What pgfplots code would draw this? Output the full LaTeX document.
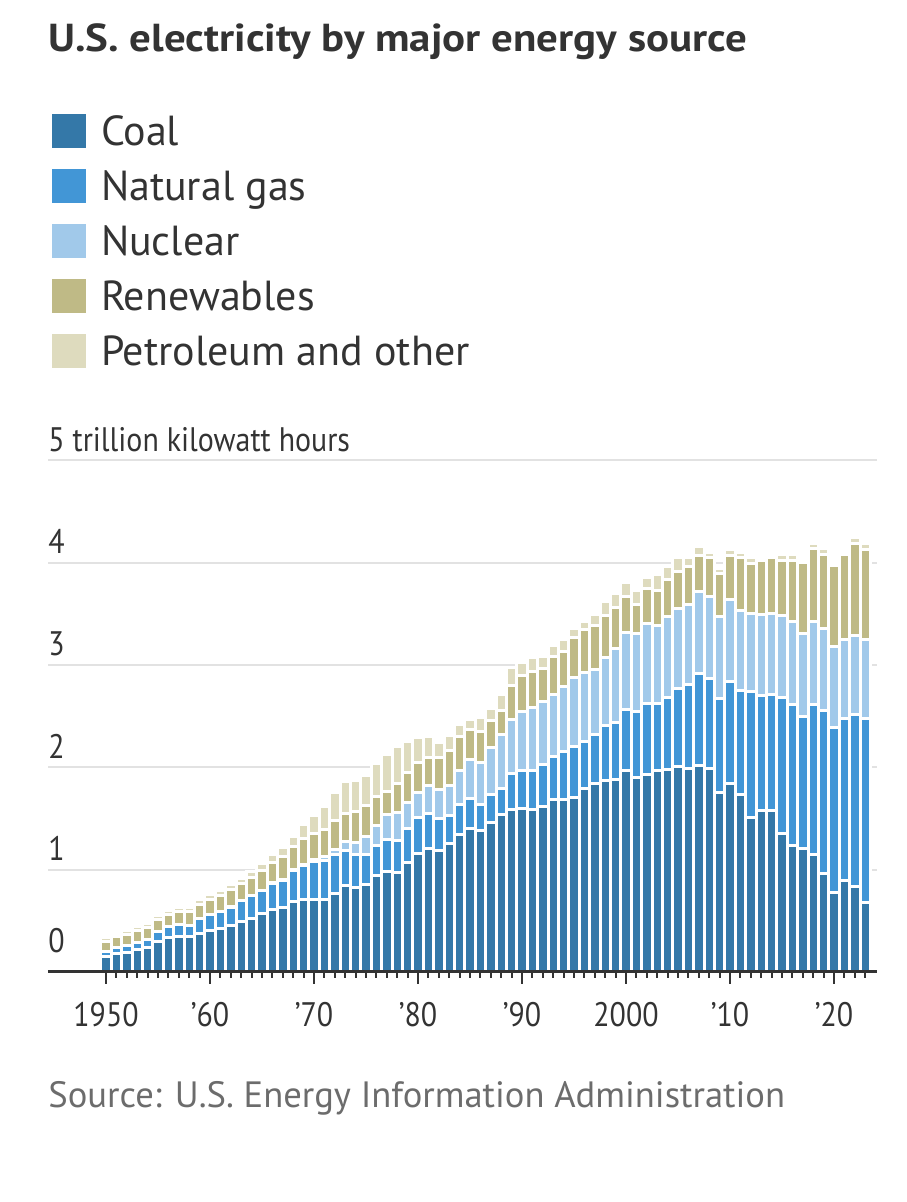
\documentclass[border=0pt]{standalone}
\usepackage{fontspec}
\setmainfont{PT Sans}
\newfontfamily\condfont[FakeStretch=0.88]{PT Sans}
\newfontfamily\titlefont[FakeStretch=1.1]{PT Sans Bold}
\usepackage{pgfplots}
\pgfplotsset{compat=1.18}
\usepackage{pgfplotstable}

\definecolor{coal}{HTML}{3478A8}
\definecolor{gas}{HTML}{4296D6}
\definecolor{nuc}{HTML}{A1C9EA}
\definecolor{ren}{HTML}{BFBA86}
\definecolor{pet}{HTML}{DEDBBE}
\definecolor{textdark}{HTML}{333333}
\definecolor{srcgray}{HTML}{6C6C6C}
\definecolor{gridgray}{HTML}{E2E2E2}

% trillion kilowatt hours
\pgfplotstableread{
year coal gas nuc ren pet
1950 0.155 0.045 0.000 0.101 0.034
1951 0.185 0.057 0.000 0.104 0.029
1952 0.195 0.066 0.000 0.110 0.031
1953 0.219 0.074 0.000 0.110 0.045
1954 0.239 0.080 0.000 0.112 0.045
1955 0.301 0.095 0.000 0.116 0.037
1956 0.339 0.104 0.000 0.122 0.038
1957 0.346 0.114 0.000 0.130 0.040
1958 0.344 0.110 0.000 0.140 0.041
1959 0.378 0.141 0.000 0.139 0.047
1960 0.403 0.158 0.001 0.149 0.048
1961 0.422 0.169 0.002 0.152 0.049
1962 0.450 0.184 0.002 0.169 0.049
1963 0.494 0.202 0.003 0.166 0.052
1964 0.526 0.220 0.003 0.177 0.057
1965 0.571 0.222 0.004 0.194 0.065
1966 0.614 0.251 0.006 0.195 0.079
1967 0.631 0.265 0.008 0.223 0.089
1968 0.685 0.304 0.013 0.223 0.104
1969 0.706 0.333 0.014 0.250 0.138
1970 0.704 0.373 0.022 0.251 0.184
1971 0.713 0.374 0.038 0.270 0.220
1972 0.771 0.376 0.054 0.277 0.274
1973 0.848 0.341 0.084 0.277 0.314
1974 0.828 0.320 0.114 0.307 0.301
1975 0.853 0.300 0.173 0.306 0.289
1976 0.944 0.295 0.191 0.290 0.320
1977 0.985 0.306 0.251 0.227 0.358
1978 0.976 0.305 0.276 0.286 0.365
1979 1.075 0.330 0.255 0.287 0.304
1980 1.162 0.346 0.251 0.284 0.246
1981 1.203 0.346 0.273 0.270 0.206
1982 1.192 0.305 0.283 0.317 0.147
1983 1.259 0.274 0.294 0.341 0.145
1984 1.342 0.297 0.328 0.333 0.120
1985 1.402 0.292 0.384 0.295 0.100
1986 1.386 0.249 0.414 0.306 0.137
1987 1.464 0.273 0.455 0.265 0.119
1988 1.541 0.253 0.527 0.238 0.149
1989 1.584 0.353 0.529 0.330 0.180
1990 1.594 0.373 0.577 0.352 0.134
1991 1.591 0.382 0.613 0.350 0.138
1992 1.621 0.404 0.619 0.325 0.112
1993 1.690 0.415 0.610 0.370 0.110
1994 1.691 0.460 0.640 0.345 0.110
1995 1.709 0.496 0.673 0.390 0.085
1996 1.795 0.455 0.675 0.424 0.082
1997 1.845 0.479 0.629 0.434 0.104
1998 1.874 0.531 0.674 0.403 0.137
1999 1.881 0.556 0.728 0.401 0.131
2000 1.966 0.601 0.754 0.350 0.137
2001 1.904 0.639 0.769 0.278 0.140
2002 1.933 0.691 0.780 0.345 0.111
2003 1.974 0.650 0.764 0.338 0.160
2004 1.978 0.710 0.789 0.360 0.130
2005 2.013 0.761 0.782 0.362 0.134
2006 1.991 0.816 0.787 0.373 0.085
2007 2.017 0.897 0.806 0.355 0.082
2008 1.986 0.883 0.806 0.377 0.050
2009 1.756 0.921 0.799 0.416 0.053
2010 1.847 0.988 0.807 0.433 0.055
2011 1.733 1.014 0.790 0.515 0.050
2012 1.514 1.226 0.769 0.487 0.056
2013 1.581 1.125 0.789 0.528 0.025
2014 1.582 1.127 0.797 0.546 0.025
2015 1.352 1.334 0.797 0.542 0.055
2016 1.239 1.378 0.806 0.602 0.055
2017 1.206 1.296 0.805 0.693 0.025
2018 1.146 1.469 0.807 0.713 0.055
2019 0.965 1.587 0.809 0.720 0.055
2020 0.773 1.618 0.790 0.792 0.025
2021 0.898 1.579 0.778 0.825 0.025
2022 0.832 1.687 0.772 0.897 0.055
2023 0.675 1.802 0.775 0.882 0.055
}\datatable

\begin{document}
\begin{tikzpicture}[x=1pt,y=1pt]
\useasboundingbox (0,0) rectangle (453,601);

\node[anchor=base west, inner sep=0pt, text=textdark,
      font=\titlefont\fontsize{19.5}{23}\selectfont] at (24,575.25)
      {U.S. electricity by major energy source};

\begin{axis}[
  name=ax,
  at={(24pt,115pt)}, anchor=south west,
  scale only axis, width=414.5pt, height=255.75pt,
  xmin=1944.42, xmax=2024.13, ymin=0, ymax=5,
  clip=false,
  ybar stacked, bar width=1,
  axis x line*=bottom, axis y line*=left,
  x axis line style={draw=textdark, line width=1.5pt},
  y axis line style={draw=none},
  xtick={1950,1960,...,2020},
  xticklabels={1950,’60,’70,’80,’90,2000,’10,’20},
  minor xtick={1950,...,2023},
  xtick align=outside,
  major tick length=6pt, minor tick length=3pt,
  x tick style={draw=textdark, line width=1pt},
  minor x tick style={draw=textdark, line width=1pt},
  xticklabel style={anchor=base, yshift=-21.5pt, text=textdark,
     font=\condfont\fontsize{17}{20}\selectfont},
  ytick={1,2,3,4,5}, yticklabels={,,,,},
  y tick style={draw=none},
  ymajorgrids, grid style={draw=gridgray, line width=1pt},
  legend cell align=left,
  legend style={at={(0.00483,1.698)}, anchor=north west,
     draw=none, fill=none, inner sep=0pt, outer sep=0pt,
     row sep=0pt, column sep=7.5pt,
     font=\fontsize{21}{25}\selectfont, text=textdark,
     nodes={inner sep=0pt, outer sep=0pt, text height=21.25pt, text depth=6.25pt}},
]
\addplot[fill=coal, draw=white, line width=1.5pt,
  legend image code/.code={\fill[coal] (0pt,-7.75pt) rectangle (15.5pt,7.75pt);}]
  table[x=year, y=coal] {\datatable};
\addplot[fill=gas, draw=white, line width=1.5pt,
  legend image code/.code={\fill[gas] (0pt,-7.75pt) rectangle (15.5pt,7.75pt);}]
  table[x=year, y=gas] {\datatable};
\addplot[fill=nuc, draw=white, line width=1.5pt,
  legend image code/.code={\fill[nuc] (0pt,-7.75pt) rectangle (15.5pt,7.75pt);}]
  table[x=year, y=nuc] {\datatable};
\addplot[fill=ren, draw=white, line width=1.5pt,
  legend image code/.code={\fill[ren] (0pt,-7.75pt) rectangle (15.5pt,7.75pt);}]
  table[x=year, y=ren] {\datatable};
\addplot[fill=pet, draw=white, line width=1.5pt,
  legend image code/.code={\fill[pet] (0pt,-7.75pt) rectangle (15.5pt,7.75pt);}]
  table[x=year, y=pet] {\datatable};
\legend{Coal, Natural gas, Nuclear, Renewables, Petroleum and other}

\pgfplotsinvokeforeach{1,2,3,4}{
  \node[anchor=base west, inner sep=0pt, yshift=4.6pt, text=textdark,
        font=\condfont\fontsize{17}{20}\selectfont] at (axis cs:1944.42,#1) {#1};
}
\node[anchor=base west, inner sep=0pt, yshift=9.5pt, text=textdark,
      font=\condfont\fontsize{17}{20}\selectfont] at (axis cs:1944.42,0) {0};
\node[anchor=base west, inner sep=0pt, yshift=4.25pt, text=textdark,
      font=\condfont\fontsize{17}{20}\selectfont] at (axis cs:1944.42,5)
      {5 trillion kilowatt hours};
\end{axis}

\draw[textdark, line width=1.5pt] (ax.south west) -- (ax.south east);

\node[anchor=base west, inner sep=0pt, text=srcgray,
      font=\fontsize{18.3}{22}\selectfont] at (24,47)
      {Source: U.S. Energy Information Administration};
\end{tikzpicture}
\end{document}
